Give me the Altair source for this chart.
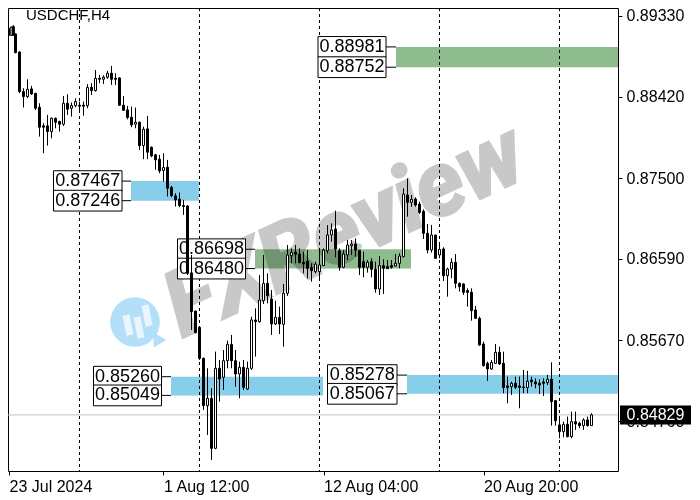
import altair as alt
import pandas as pd

# Prices, in points (1/100000)
opens = [
 89180,89112,89210,89127,88924,88477,88421,88507,88458,88300,
 88090,88090,88026,88176,88139,88109,88345,88289,88319,88323,
 88323,88319,88526,88488,88627,88616,88639,88684,88627,88631,
 88323,88270,88187,88109,88131,87868,88056,87849,87763,87714,
 87586,87623,87398,87300,87263,87191,87186,86426,86001,85817,
 85467,84933,85016,84452,85355,85253,85441,85625,85441,85291,
 85366,85121,85355,85900,85881,86118,86313,86137,85855,85930,
 85851,86201,86625,86663,86644,86550,86565,86490,86445,86445,
 86513,86682,86859,86926,86682,86494,86633,86738,86757,86682,
 86558,86494,86558,86475,86250,86513,86502,86513,86509,86539,
 86614,87310,87227,87265,87208,87126,86878,86690,86859,86633,
 86701,86400,86475,86550,86314,86306,86231,86212,86013,85919,
 85629,85411,85347,85411,85535,85411,85156,85148,85186,85156,
 85144,85137,85223,85201,85186,85201,85193,85231,84990,84716,
 84640,84723,84584,84753,84734,84708,84772,84708]
closes = [
 89116,89203,89112,88917,88477,88421,88503,88451,88289,88075,
 88075,88026,88176,88131,88109,88345,88278,88319,88364,88312,
 88312,88522,88488,88627,88616,88639,88684,88616,88616,88323,
 88266,88184,88101,88131,87868,88052,87793,87751,87706,87582,
 87620,87387,87304,87255,87191,87180,86426,85994,85757,85467,
 84933,85016,84452,85355,85234,85441,85625,85441,85291,85366,
 85140,85355,85900,85881,86125,86313,86174,85855,85930,85855,
 86201,86633,86663,86641,86547,86531,86483,86456,86531,86520,
 86689,86859,86915,86701,86494,86644,86746,86757,86689,86494,
 86494,86550,86472,86250,86513,86483,86479,86494,86539,86622,
 87321,87227,87261,87197,87114,86878,86690,86859,86596,86697,
 86400,86475,86550,86314,86276,86212,86212,86005,85919,85618,
 85385,85347,85422,85535,85404,85137,85137,85186,85140,85140,
 85137,85208,85204,85178,85167,85186,85231,84979,84764,84640,
 84723,84584,84753,84727,84708,84772,84708,84829]
highs = [
 89191,89210,89229,89135,88928,88515,88616,88541,88458,88345,
 88120,88214,88184,88184,88150,88428,88447,88353,88402,88364,
 88364,88560,88571,88721,88665,88661,88710,88767,88684,88639,
 88428,88315,88308,88297,88139,88082,88203,87857,87774,87763,
 87781,87706,87413,87330,87338,87255,87197,86633,86005,85825,
 85475,85355,85129,85543,85449,85561,85667,85731,85561,85430,
 85449,85430,85937,86031,86407,86633,86426,86238,86118,86050,
 86306,86746,86708,86746,86708,86671,86689,86539,86558,86708,
 86708,86971,86990,87133,86708,86689,86802,86802,86821,86689,
 86671,86577,86596,86558,86622,86584,86577,86577,86644,86652,
 87385,87498,87310,87284,87235,87148,86983,86972,86859,86746,
 86720,86490,86596,86644,86321,86314,86257,86257,86058,85938,
 85656,85430,85449,85629,85599,85543,85261,85204,85261,85261,
 85336,85325,85261,85242,85231,85242,85280,85422,84998,84810,
 84753,84810,84866,84866,84753,84791,84810,84847]
lows = [
 89105,89105,89105,88909,88458,88297,88402,88439,88270,87969,
 87781,87868,87951,88063,88026,88090,88214,88195,88300,88251,
 88206,88289,88439,88477,88571,88563,88620,88552,88552,88315,
 88263,88165,88075,88063,87819,87714,87714,87736,87593,87556,
 87462,87293,87285,87180,87172,87086,86407,85787,85749,85449,
 84885,84603,84321,84441,84979,85110,85355,85355,85148,85016,
 85110,85110,85336,85486,85870,86080,86088,85731,85843,85742,
 85599,86171,86539,86539,86539,86426,86370,86332,86426,86351,
 86509,86652,86783,86607,86456,86483,86577,86633,86614,86407,
 86381,86434,86381,86208,86182,86193,86475,86479,86502,86483,
 86607,87066,87178,87178,87096,86814,86652,86660,86596,86596,
 86340,86163,86370,86257,86220,86182,86050,85892,85911,85607,
 85374,85212,85336,85404,85392,85073,84960,85054,85122,84904,
 85073,85073,85148,85129,85065,85043,85167,84708,84708,84565,
 84576,84576,84565,84659,84678,84659,84697,84704]

y_ticks = [0.89330, 0.88420, 0.87500, 0.86590, 0.85670, 0.84760]
x_tick_pos = [0, 40, 80, 120]
x_tick_txt = ["23 Jul 2024", "1 Aug 12:00", "12 Aug 04:00", "20 Aug 20:00"]
period_seps = [19, 49, 79, 109, 139]
last_price = 0.84829

zone_hi = [0.88981, 0.87467, 0.86698, 0.85260, 0.85278]
zone_lo = [0.88752, 0.87246, 0.86480, 0.85049, 0.85067]
zone_x0 = [98.125, 31.875, 62.875, 41.875, 100.875]
zone_x1 = [153.625, 48.875, 101.875, 79.875, 153.625]
zone_col = ["#8fbc8f", "#87ceeb", "#8fbc8f", "#87ceeb", "#87ceeb"]
box_x0 = [78.625, 12.5, 43.5, 22.5, 81.0]
box_x1 = [95.625, 29.625, 60.5, 39.5, 98.375]
box_half = 0.00117

FONT = "Liberation Sans"
WATERMARK = "FXReview"

candles = pd.DataFrame({
    "i": range(len(opens)),
    "o": [v / 1e5 for v in opens], "c": [v / 1e5 for v in closes],
    "h": [v / 1e5 for v in highs], "l": [v / 1e5 for v in lows],
})
candles["top"] = candles[["o", "c"]].max(axis=1)
candles["bot"] = candles[["o", "c"]].min(axis=1)

zones = pd.DataFrame({"x0": zone_x0, "x1": zone_x1, "hi": zone_hi, "lo": zone_lo, "col": zone_col})

rows = []
for k in range(len(zone_hi)):
    for p in (zone_hi[k], zone_lo[k]):
        rows.append({"x0": box_x0[k], "x1": box_x1[k], "xm": (box_x0[k] + box_x1[k]) / 2,
                     "zx": zone_x0[k], "p": p, "p0": p - box_half, "p1": p + box_half,
                     "t": f"{p:.5f}"})
boxes = pd.DataFrame(rows)

xscale = alt.Scale(domain=[-0.5, 3, 153.625], range=[0, 7.5, 610], padding=0)
yscale = alt.Scale(domain=[0.84196, 0.89420], nice=False, zero=False, padding=0)

label_expr = "{" + ",".join(f"'{p}':'{t}'" for p, t in zip(x_tick_pos, x_tick_txt)) + "}[datum.value]"
xaxis = alt.Axis(values=x_tick_pos, labelExpr=label_expr, grid=False, title=None, domain=False,
                 tickColor="black", tickSize=4, labelAlign="left", labelFont=FONT, labelFontSize=16,
                 labelColor="black", labelPadding=3, labelFlush=False, labelOverlap=False, labelBound=False)
yaxis = alt.Axis(values=y_ticks, format=".5f", orient="right", grid=False, title=None, domain=False,
                 tickColor="black", tickSize=4, labelFont=FONT, labelFontSize=16, labelColor="black",
                 labelPadding=4, labelOverlap=False, labelFlush=False, labelBound=False)

X = lambda f: alt.X(f, type="quantitative", scale=xscale, axis=xaxis)
Y = lambda f: alt.Y(f, type="quantitative", scale=yscale, axis=yaxis)

price_line = alt.Chart(pd.DataFrame({"p": [last_price], "a": [-0.5], "b": [153.625]})).mark_rule(
    color="#c0c0c0", strokeWidth=1).encode(x=X("a"), x2="b:Q", y=Y("p"))

zone_layer = alt.Chart(zones).mark_rect(clip=True).encode(
    x=X("x0"), x2="x1", y=Y("lo"), y2="hi", fill=alt.Fill("col:N", scale=None))

# watermark
wm = alt.Chart(pd.DataFrame({"i": [85.375], "p": [0.86893], "t": [WATERMARK]})).mark_text(
    angle=335, font="Roboto", fontSize=90, fontWeight="bold", fontStyle="italic",
    color="#c8c8c8", stroke="#c8c8c8", strokeWidth=3, blend="multiply", align="center", baseline="middle").encode(
    x=X("i"), y=Y("p"), text="t:N")

bubble = alt.Chart(pd.DataFrame({"i": [32.875], "p": [0.85877]})).mark_circle(
    size=2463, color="#b4dff9", opacity=1).encode(x=X("i"), y=Y("p"))
bubble_tail = alt.Chart(pd.DataFrame({"i": [39.125], "p": [0.85674]})).mark_point(
    shape="triangle-right", size=220, filled=True, color="#b4dff9", opacity=1).encode(x=X("i"), y=Y("p"))
bc = pd.DataFrame({"a": [30.625, 33.375, 35.375], "b": [31.625, 34.375, 36.375],
                   "p1": [0.85956, 0.85934, 0.86069], "p0": [0.85730, 0.85697, 0.85832]})
bubble_c = alt.Chart(bc).mark_rule(color="white", opacity=0.7, strokeWidth=7).encode(
    x=X("a"), x2="b", y=Y("p1"), y2="p0")

seps = alt.Chart(pd.DataFrame({"i": period_seps})).mark_rule(
    color="black", strokeWidth=1, strokeDash=[3, 3]).encode(x=X("i"))

conn = alt.Chart(boxes).mark_rule(color="black", strokeWidth=1).encode(x=X("x1"), x2="zx", y=Y("p"))
box_rect = alt.Chart(boxes).mark_rect(fill="white", stroke="black", strokeWidth=1).encode(
    x=X("x0"), x2="x1", y=Y("p0"), y2="p1")
box_text = alt.Chart(boxes).mark_text(font=FONT, fontSize=18, color="black", align="center",
                                      baseline="middle").encode(x=X("xm"), y=Y("p"), text="t:N")

wicks = alt.Chart(candles).mark_rule(color="black", strokeWidth=1, clip=True).encode(x=X("i"), y=Y("h"), y2="l")
bodies = alt.Chart(candles).mark_bar(size=2, stroke="black", strokeWidth=1, clip=True).encode(
    x=X("i"), y=Y("bot"), y2="top",
    fill=alt.condition("datum.c > datum.o", alt.value("white"), alt.value("black")))

tag = alt.Chart(pd.DataFrame({"a": [154.125], "b": [171.875], "p0": [last_price - 0.00107],
                              "p1": [last_price + 0.00107]})).mark_rect(fill="black").encode(
    x=X("a"), x2="b", y=Y("p0"), y2="p1")
tag_t = alt.Chart(pd.DataFrame({"i": [163.0], "p": [last_price], "t": [f"{last_price:.5f}"]})).mark_text(
    font=FONT, fontSize=16, color="white", align="center", baseline="middle").encode(
    x=X("i"), y=Y("p"), text="t:N")

title_t = alt.Chart(pd.DataFrame({"t": ["USDCHF,H4"]})).mark_text(
    font=FONT, fontSize=15, color="black", align="left", baseline="middle").encode(
    x=alt.value(18), y=alt.value(7), text="t:N")

chart = alt.layer(
    price_line, zone_layer, wm, bubble, bubble_tail, bubble_c, seps,
    conn, box_rect, box_text, wicks, bodies, tag, tag_t, title_t
).properties(
    width=610, height=463,
    autosize=alt.AutoSizeParams(type="none"),
    padding={"left": 0, "top": 0, "right": 74, "bottom": 26},
    background="white",
).configure_view(stroke="black", strokeWidth=1)

chart.save("out.html", embed_options={"renderer": "svg", "actions": False})
